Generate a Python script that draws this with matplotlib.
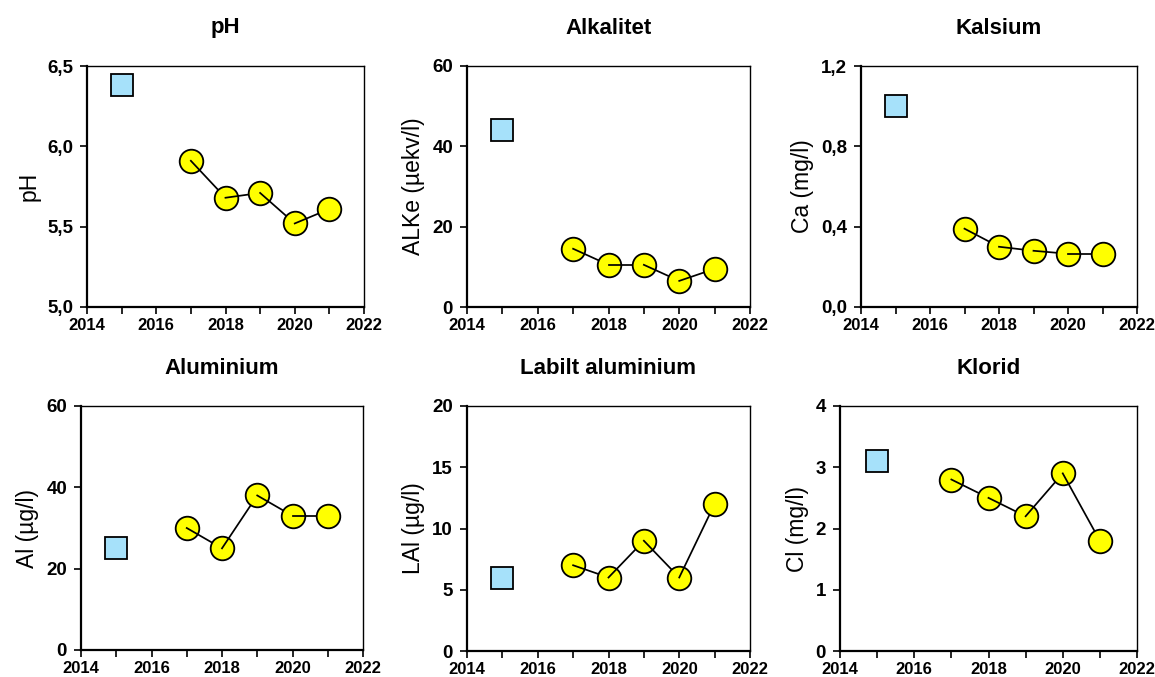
import matplotlib.pyplot as plt
from matplotlib.ticker import FuncFormatter, MultipleLocator

plt.rcParams['font.family'] = ['Liberation Sans', 'DejaVu Sans']

years = [2017, 2018, 2019, 2020, 2021]
ref_year = 2015

titles = ['pH', 'Alkalitet', 'Kalsium', 'Aluminium', 'Labilt aluminium', 'Klorid']
ylabels = ['pH', 'ALKe (µekv/l)', 'Ca (mg/l)', 'Al (µg/l)', 'LAl (µg/l)', 'Cl (mg/l)']

ph = [5.91, 5.68, 5.71, 5.52, 5.61]
alk = [14.5, 10.5, 10.5, 6.5, 9.5]
ca = [0.39, 0.30, 0.28, 0.265, 0.265]
al = [30, 25, 38, 33, 33]
lal = [7, 6, 9, 6, 12]
cl = [2.8, 2.5, 2.2, 2.9, 1.8]
series = [ph, alk, ca, al, lal, cl]

ref_values = [6.38, 44, 1.0, 25, 6, 3.1]

ylims = [(5.0, 6.5), (0, 60), (0, 1.2), (0, 60), (0, 20), (0, 4)]
ysteps = [0.5, 20, 0.4, 20, 5, 1]
ydecimals = [1, 0, 1, 0, 0, 0]

# axes boxes in pixels: left, right, top, bottom
W, H = 1155, 677
boxes = [(87, 364, 66, 307), (467, 750, 66, 307), (861, 1137, 66, 307),
         (81, 363, 406, 650), (467, 750, 406, 651), (840, 1137, 406, 651)]
title_y = [28, 28, 28, 368, 368, 368]

fig = plt.figure(figsize=(W / 100, H / 100), dpi=100)

for i in range(6):
    l, r, t, b = boxes[i]
    ax = fig.add_axes([l / W, 1 - b / H, (r - l) / W, (b - t) / H])
    vals = series[i]

    # Excel-style draw order: each segment sits on top of its start marker
    # and under its end marker
    z = 3
    for k in range(len(years)):
        ax.plot(years[k], vals[k], 'o', ms=17, mfc='#FFFF00', mec='black',
                mew=1.3, zorder=z, clip_on=False)
        z += 1
        if k < len(years) - 1:
            ax.plot(years[k:k + 2], vals[k:k + 2], '-', color='black', lw=1.25, zorder=z)
            z += 1
    ax.plot(ref_year, ref_values[i], 's', ms=16.5, mfc='#A6E1FA', mec='black',
            mew=1.3, zorder=z, clip_on=False)

    ax.set_xlim(2014, 2022)
    ax.set_ylim(*ylims[i])
    ax.xaxis.set_major_locator(MultipleLocator(2))
    ax.xaxis.set_minor_locator(MultipleLocator(1))
    ax.yaxis.set_major_locator(MultipleLocator(ysteps[i]))
    dec = ydecimals[i]
    ax.yaxis.set_major_formatter(FuncFormatter(
        lambda v, p, d=dec: f'{v:.{d}f}'.replace('.', ',')))

    ax.tick_params(axis='both', which='both', direction='out', width=1.2)
    ax.tick_params(axis='x', which='major', length=5, labelsize=12, pad=3)
    ax.tick_params(axis='x', which='minor', length=5)
    ax.tick_params(axis='y', length=5, labelsize=13.5, pad=5)
    for lab in ax.get_xticklabels() + ax.get_yticklabels():
        lab.set_fontweight('bold')

    for side in ['left', 'bottom']:
        ax.spines[side].set_linewidth(1.6)
    for side in ['right', 'top']:
        ax.spines[side].set_linewidth(1.0)

    ax.set_ylabel(ylabels[i], fontsize=16.5, labelpad=5)
    fig.text((l + r) / 2 / W, 1 - title_y[i] / H, titles[i], ha='center', va='center',
             fontsize=16, fontweight='bold')

fig.savefig('out.png', dpi=100)
